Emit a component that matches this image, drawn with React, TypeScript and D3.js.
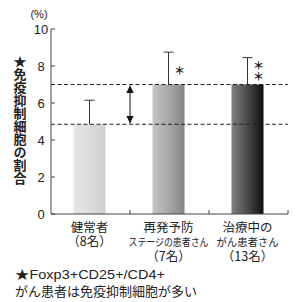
import React from 'react';
import * as d3 from 'd3';

// data
const groups = ['healthy', 'relapse', 'treatment'];
const values = [4.85, 7.0, 7.0];
const errors = [6.15, 8.75, 8.45];
const stars = [0, 1, 2];
const yTicks = [0, 2, 4, 6, 8, 10];
const labelLine1 = ['健常者', '再発予防', '治療中の'];
const labelLine2 = ['（8名）', 'ステージの患者さん', 'がん患者さん'];
const labelLine3 = ['', '（7名）', '（13名）'];
const gradients = [
  ['#e6e6e6', '#dcdcdc', '#d0d0d0'],
  ['#c4c4c4', '#a8a8a8', '#848484'],
  ['#808080', '#4a4a4a', '#0e0e0e'],
];
const yTitle = '★免疫抑制細胞の割合';
const notes = ['★Foxp3+CD25+/CD4+', 'がん患者は免疫抑制細胞が多い'];

const jp = '"Noto Sans CJK JP", sans-serif';
const latin = '"Liberation Sans", "Noto Sans CJK JP", sans-serif';

export default function App() {
  const width = 300;
  const height = 302;
  const y = d3.scaleLinear().domain([0, 10]).range([214, 29]);
  const x = d3.scaleBand().domain(groups).range([51, 288]);
  const bw = 32;
  const cx = (g: string) => (x(g) as number) + x.bandwidth() / 2 - 1;
  const axisColor = '#444';

  return (
    <svg width={width} height={height} style={{ position: 'absolute', left: 0, top: 0 }}>
      <defs>
        {gradients.map((g, i) => (
          <linearGradient key={i} id={`grad${i}`} x1="0" x2="1" y1="0" y2="0">
            <stop offset="0%" stopColor={g[0]} />
            <stop offset="50%" stopColor={g[1]} />
            <stop offset="100%" stopColor={g[2]} />
          </linearGradient>
        ))}
        <marker id="arrow" viewBox="0 0 10 10" refX="10" refY="5" markerWidth="7.5" markerHeight="7.5" orient="auto-start-reverse">
          <path d="M0,0 L10,5 L0,10 z" fill="#111" />
        </marker>
      </defs>

      {/* bars */}
      {groups.map((g, i) => (
        <rect key={g} x={cx(g) - bw / 2} y={y(values[i])} width={bw} height={y(0) - y(values[i])} fill={`url(#grad${i})`} />
      ))}

      {/* error bars */}
      {groups.map((g, i) => (
        <g key={g} stroke="#333" strokeWidth={1}>
          <line x1={cx(g)} x2={cx(g)} y1={y(values[i])} y2={y(errors[i])} />
          <line x1={cx(g) - 5} x2={cx(g) + 5} y1={y(errors[i])} y2={y(errors[i])} />
        </g>
      ))}

      {/* reference dashed lines */}
      {[values[0], values[1]].map((v, i) => (
        <line key={i} x1={51} x2={288} y1={y(v)} y2={y(v)} stroke="#222" strokeWidth={1} strokeDasharray="4,2.5" />
      ))}

      {/* double arrow */}
      <line x1={x(groups[1])} x2={x(groups[1])} y1={y(values[1]) + 1} y2={y(values[0]) - 1} stroke="#111" strokeWidth={1} markerStart="url(#arrow)" markerEnd="url(#arrow)" />

      {/* significance marks */}
      {groups.map((g, i) =>
        stars[i] > 0 ? (
          <text key={g} x={cx(g) + 11} y={y(errors[i]) + 13 - (stars[i] - 1) * 10} fontSize={11} fontWeight="bold" fontFamily={jp} fill="#222"
            style={{ writingMode: 'vertical-rl', textOrientation: 'upright' } as any}>{'＊'.repeat(stars[i])}</text>
        ) : null
      )}

      {/* axes */}
      <line x1={51} x2={51} y1={y(10)} y2={y(0)} stroke={axisColor} />
      <line x1={51} x2={288} y1={y(0)} y2={y(0)} stroke={axisColor} />
      {yTicks.map((t) => (
        <g key={t}>
          <line x1={51} x2={55} y1={y(t)} y2={y(t)} stroke={axisColor} />
          <text x={41} y={y(t) + 4.5} fontSize={13} fontFamily={latin} textAnchor="middle" fill="#222">{t}</text>
        </g>
      ))}
      {groups.map((g) => (
        <line key={g} x1={(x(g) as number) + x.bandwidth()} x2={(x(g) as number) + x.bandwidth()} y1={y(0)} y2={y(0) - 4} stroke={axisColor} />
      ))}
      <text x={39} y={18} fontSize={11} fontFamily={latin} textAnchor="middle" fill="#222">(%)</text>

      {/* y title */}
      <text x={20} y={55} fontSize={13} fontFamily={jp} fontWeight="bold" fill="#222" style={{ writingMode: 'vertical-rl', textOrientation: 'upright' } as any}>{yTitle}</text>

      {/* category labels, one text block per group */}
      {groups.map((g, i) => (
        <text key={g} fontFamily={jp} fill="#222" textAnchor="middle" fontSize={12.5}>
          <tspan x={cx(g)} y={232}>{labelLine1[i]}</tspan>
          {i === 0 ? (
            <tspan x={cx(g)} y={246}>{labelLine2[i]}</tspan>
          ) : (
            <tspan x={cx(g)} y={246} fontSize={10.5} textLength={i === 1 ? 80 : 62} lengthAdjust="spacingAndGlyphs">{labelLine2[i]}</tspan>
          )}
          {labelLine3[i] ? <tspan x={cx(g)} y={261}>{labelLine3[i]}</tspan> : null}
        </text>
      ))}

      {/* notes */}
      <text x={15} y={279} fontSize={12.5} fontFamily={latin} fill="#222" textLength={150} lengthAdjust="spacingAndGlyphs">{notes[0]}</text>
      <text x={15} y={296} fontSize={13} fontFamily={jp} fill="#222">{notes[1]}</text>
    </svg>
  );
}
